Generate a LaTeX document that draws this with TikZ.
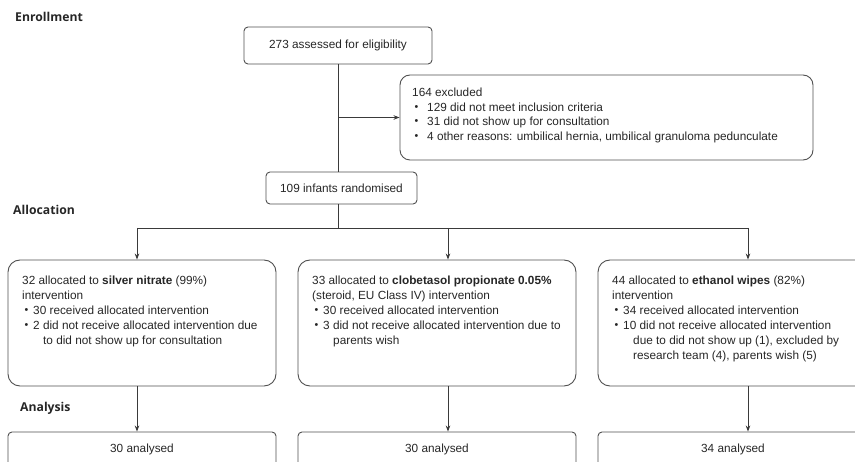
\documentclass[tikz,border=0pt]{standalone}
\usepackage{fontspec}
\setmainfont{Liberation Sans}
\newfontfamily\headfont{Open Sans}
\usetikzlibrary{arrows.meta}

\definecolor{txt}{HTML}{262626}
\definecolor{edge}{HTML}{505050}
\definecolor{wire}{HTML}{3A3A3A}

\newcommand{\bul}[1][11pt]{\makebox[#1][l]{\hspace{2.5pt}\raisebox{0.2ex}{\scalebox{0.9}{•}}}}

\begin{document}
\begin{tikzpicture}[
    x=1pt, y=-1pt,
    lbl/.style={font=\headfont\bfseries\fontsize{12.2}{14}\selectfont, anchor=west, inner sep=0, text=txt},
    box/.style={draw=edge, line width=0.9pt, rounded corners=4pt, inner sep=0, text=txt, font=\fontsize{11.8}{14}\selectfont},
    bigbox/.style={box, rounded corners=12pt, minimum height=126pt},
    body/.style={anchor=north west, inner sep=0, align=left, text=txt, font=\fontsize{11.8}{15}\selectfont},
    link/.style={draw=wire, line width=0.8pt},
    arrow/.style={link, -{Stealth[length=6pt,width=4.5pt]}}
]
\clip (0,0) rectangle (855,462);
\useasboundingbox (0,0) rectangle (855,462);

% Section labels
\node[lbl] (enrol) at (15,17) {Enrollment};
\node[lbl] (alloclbl) at (13,210) {Allocation};
\node[lbl] (analbl) at (20,408) {Analysis};

% Enrollment
\node[box, minimum width=188pt, minimum height=37pt] (assess) at (338,45.5) {273 assessed for eligibility};
\node[box, rounded corners=10pt, minimum width=413pt, minimum height=85pt] (excl) at (606.5,117.5) {};
\node[body, font=\fontsize{11.8}{14.5}\selectfont] (excltxt) at (412,88) {164 excluded\\
\bul[15pt]129 did not meet inclusion criteria\\
\bul[15pt]31 did not show up for consultation\\
\bul[15pt]4 other reasons: umbilical hernia, umbilical granuloma pedunculate};
\node[box, minimum width=151pt, minimum height=32pt] (rand) at (341.5,188) {109 infants randomised};

% Allocation
\node[bigbox, minimum width=268pt] (alloc1) at (142,323) {};
\node[bigbox, minimum width=278pt] (alloc2) at (437,323) {};
\node[bigbox, minimum width=270pt] (alloc3) at (733,323) {};

\node[body] (txt1) at (22,275.5) {32 allocated to \textbf{silver nitrate} (99\%)\\
intervention\\
\bul 30 received allocated intervention\\
\bul 2 did not receive allocated intervention due\\
\hspace*{21pt}to did not show up for consultation};
\node[body] (txt2) at (312,275.5) {33 allocated to \textbf{clobetasol propionate 0.05\%}\\
(steroid, EU Class IV) intervention\\
\bul 30 received allocated intervention\\
\bul 3 did not receive allocated intervention due to\\
\hspace*{21pt}parents wish};
\node[body] (txt3) at (612,275.5) {44 allocated to \textbf{ethanol wipes} (82\%)\\
intervention\\
\bul 34 received allocated intervention\\
\bul 10 did not receive allocated intervention\\
\hspace*{21pt}due to did not show up (1), excluded by\\
\hspace*{21pt}research team (4), parents wish (5)};

% Analysis
\node[box, minimum width=268pt, minimum height=34pt] (anal1) at (142,449) {30 analysed};
\node[box, minimum width=278pt, minimum height=34pt] (anal2) at (437,449) {30 analysed};
\node[box, minimum width=270pt, minimum height=34pt] (anal3) at (733,449) {34 analysed};

% Connectors
\coordinate (split) at (338,228);
\coordinate (c1) at (137,228);
\coordinate (c2) at (448,228);
\coordinate (c3) at (748,228);

\draw[link] (assess.south) -- (assess.south |- rand.north);
\draw[arrow] (assess.south |- excl.west) -- (excl.west);
\draw[link] (assess.south |- rand.south) -- (split);
\draw[link] (c1) -- (c3);
\draw[arrow] (c1) -- (c1 |- alloc1.north);
\draw[arrow] (c2) -- (c2 |- alloc2.north);
\draw[arrow] (c3) -- (c3 |- alloc3.north);
\draw[arrow] (c1 |- alloc1.south) -- (c1 |- anal1.north);
\draw[arrow] (c2 |- alloc2.south) -- (c2 |- anal2.north);
\draw[arrow] (c3 |- alloc3.south) -- (c3 |- anal3.north);

\end{tikzpicture}
\end{document}
